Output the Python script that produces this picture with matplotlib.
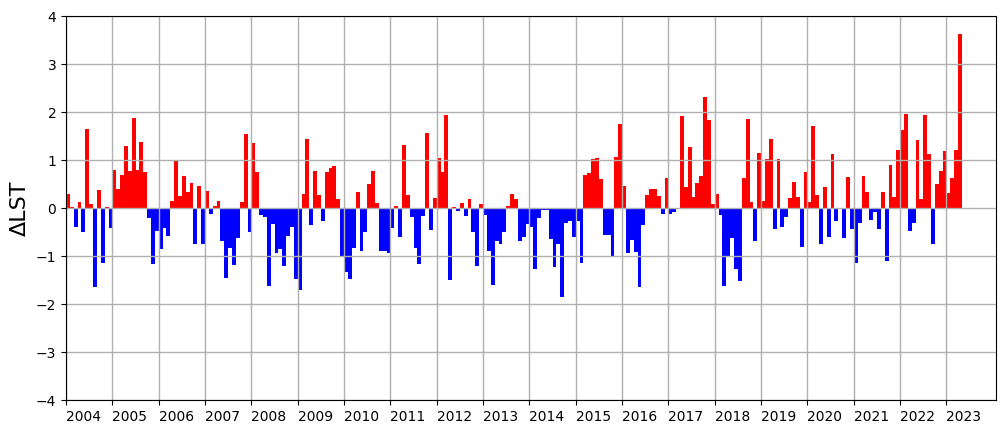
import matplotlib
matplotlib.use("Agg")
import matplotlib.pyplot as plt
import numpy as np

# monthly ΔLST anomalies, Jan 2004 .. Apr 2023
y2004 = [0.29, 0.03, -0.39, 0.12, -0.51, 1.65, 0.08, -1.64, 0.37, -1.14, 0.03, -0.41]
y2005 = [0.79, 0.40, 0.69, 1.29, 0.78, 1.87, 0.79, 1.37, 0.75, -0.20, -1.16, -0.47]
y2006 = [-0.85, -0.41, -0.58, 0.15, 0.98, 0.25, 0.67, 0.33, 0.52, -0.74, 0.46, -0.74]
y2007 = [0.35, -0.12, 0.04, 0.15, -0.68, -1.45, -0.83, -1.18, -0.62, 0.12, 1.54, -0.49]
y2008 = [1.35, 0.75, -0.14, -0.18, -1.62, -0.33, -0.93, -0.85, -1.20, -0.58, -0.39, -1.47]
y2009 = [-1.70, 0.29, 1.44, -0.35, 0.78, 0.27, -0.28, 0.75, 0.83, 0.87, 0.19, -0.99]
y2010 = [-1.33, -1.47, -0.83, 0.33, -0.90, -0.51, 0.50, 0.78, 0.10, -0.89, -0.89, -0.93]
y2011 = [-0.41, 0.05, -0.60, 1.31, 0.27, -0.18, -0.83, -1.16, -0.16, 1.56, -0.45, 0.21]
y2012 = [1.04, 0.75, 1.94, -1.51, 0.03, -0.06, 0.10, -0.16, 0.19, -0.51, -1.20, 0.08]
y2013 = [-0.14, -0.89, -1.60, -0.68, -0.74, -0.49, 0.04, 0.29, 0.19, -0.68, -0.60, -0.33]
y2014 = [-0.40, -1.28, -0.20, -0.04, -0.04, -0.64, -1.22, -0.76, -1.85, -0.31, -0.28, -0.60]
y2015 = [-0.28, -1.14, 0.69, 0.73, 1.02, 1.04, 0.60, -0.57, -0.56, -1.03, 1.06, 1.75]
y2016 = [0.46, -0.93, -0.66, -0.91, -1.64, -0.35, 0.27, 0.40, 0.40, 0.25, -0.12, 0.62]
y2017 = [-0.13, -0.09, 0.0, 1.92, 0.44, 1.27, 0.23, 0.52, 0.67, 2.31, 1.83, 0.08]
y2018 = [0.29, -0.14, -1.62, -0.99, -0.62, -1.28, -1.53, 0.63, 1.86, 0.12, -0.68, 1.15]
y2019 = [0.15, 1.02, 1.44, -0.43, 1.02, -0.39, -0.18, 0.21, 0.54, 0.23, -0.81, 0.75]
y2020 = [0.12, 1.71, 0.27, -0.76, 0.44, -0.60, 1.12, -0.28, 0.0, -0.62, 0.65, -0.43]
y2021 = [-1.14, -0.31, 0.67, 0.33, -0.26, -0.08, -0.43, 0.33, -1.10, 0.90, 0.23, 1.21]
y2022 = [1.62, 1.96, -0.47, -0.31, 1.42, 0.19, 1.94, 1.12, -0.76, 0.50, 0.77, 1.19]
y2023 = [0.31, 0.62, 1.21, 3.62]

years = list(range(2004, 2024))
tick_labels = [str(y) for y in years]

values = np.array(y2004 + y2005 + y2006 + y2007 + y2008 + y2009 + y2010 + y2011
                  + y2012 + y2013 + y2014 + y2015 + y2016 + y2017 + y2018 + y2019
                  + y2020 + y2021 + y2022 + y2023)
t = 2004 + np.arange(len(values)) / 12.0
colors = np.where(values >= 0, "#ff0000", "#0000ff")

fig = plt.figure(figsize=(10.05, 4.34), dpi=100)
ax = fig.add_axes([0.0657, 0.0783, 0.9254, 0.8848])

ax.bar(t, values, width=1 / 12.0, align="edge", color=colors, linewidth=0)

ax.set_xlim(2004, 2024.07)
ax.set_ylim(-4, 4)
ax.set_xticks(years)
ax.set_xticklabels(tick_labels, ha="left", fontsize=10)
ax.set_yticks(range(-4, 5))
ax.tick_params(labelsize=10)
ax.set_ylabel("ΔLST", fontsize=16)
ax.grid(True, color="#b0b0b0", linewidth=1)

fig.savefig("out.png", dpi=100)
